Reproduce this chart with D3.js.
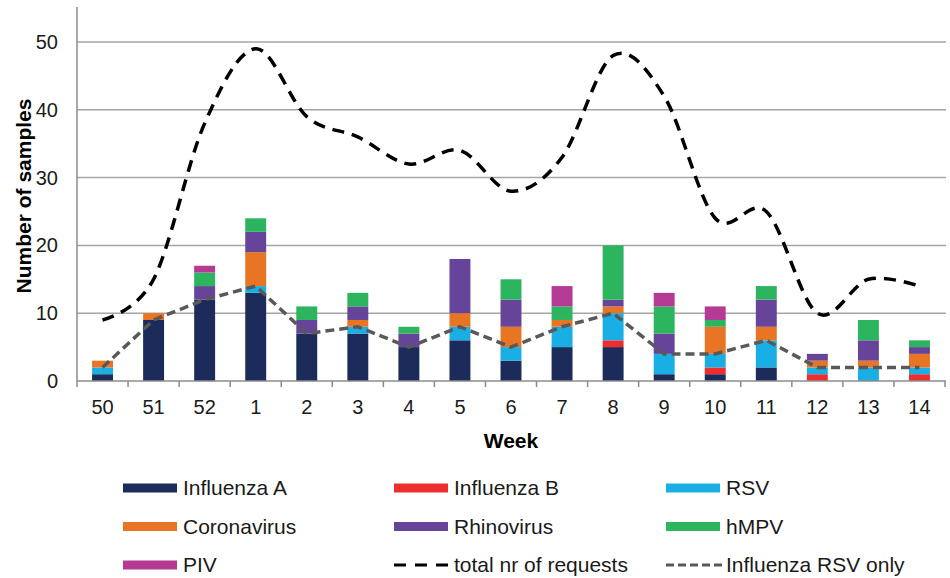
<!DOCTYPE html>
<html><head><meta charset="utf-8">
<script src="https://cdn.jsdelivr.net/npm/d3@7"></script>
<style>body{margin:0;background:#fff}svg{display:block;font-family:"Liberation Sans",Arial,sans-serif}</style>
</head><body><svg id="c" width="950" height="578"></svg>
<script>
const weeks = ["50","51","52","1","2","3","4","5","6","7","8","9","10","11","12","13","14"];
const influenzaA  = [1,9,12,13,7,7,5,6,3,5,5,1,1,2,0,0,0];
const influenzaB  = [0,0,0,0,0,0,0,0,0,0,1,0,1,0,1,0,1];
const rsv         = [1,0,0,1,0,1,0,2,2,3,4,3,2,4,1,2,1];
const coronavirus = [1,1,0,5,0,1,0,2,3,1,1,0,4,2,1,1,2];
const rhinovirus  = [0,0,2,3,2,2,2,8,4,0,1,3,0,4,1,3,1];
const hmpv        = [0,0,2,2,2,2,1,0,3,2,8,4,1,2,0,3,1];
const piv         = [0,0,1,0,0,0,0,0,0,3,0,2,2,0,0,0,0];
const totalRequests = [9,15,38,49,39,36,32,34,28,33,48,42,24,25,10,15,14];
const influenzaRsvOnly = [2,9,12,14,7,8,5,8,5,8,10,4,4,6,2,2,2];
const yTicks = [0,10,20,30,40,50];

const seriesNames = ["Influenza A","Influenza B","RSV","Coronavirus","Rhinovirus","hMPV","PIV"];
const seriesValues = [influenzaA,influenzaB,rsv,coronavirus,rhinovirus,hmpv,piv];
const colors = ["#1c2b59","#ee2d2f","#1aafe4","#e87524","#66449a","#2db45f","#b53a94"];

const svg = d3.select("#c");
const x = d3.scaleBand().domain(weeks).range([77,945]).paddingInner(0.59).paddingOuter(0.295);
const xb = d3.scaleBand().domain(weeks).range([77,945]);
const y = d3.scaleLinear().domain([0,55]).range([381,8.1]);

// gridlines
svg.append("g").selectAll("line").data(yTicks.filter(d=>d>0)).join("line")
  .attr("x1",77).attr("x2",946).attr("y1",d=>y(d)).attr("y2",d=>y(d))
  .attr("stroke","#a6a6a6").attr("stroke-width",1.5);

// stacked bars
const table = weeks.map((w,i)=>{const o={week:w}; seriesNames.forEach((s,j)=>o[s]=seriesValues[j][i]); return o;});
const stack = d3.stack().keys(seriesNames)(table);
svg.append("g").selectAll("g").data(stack).join("g").attr("fill",(d,i)=>colors[i])
  .selectAll("rect").data(d=>d.filter(p=>p[1]>p[0])).join("rect")
  .attr("x",d=>x(d.data.week)).attr("width",x.bandwidth())
  .attr("y",d=>y(d[1])).attr("height",d=>y(d[0])-y(d[1]));

// axes
const ya = svg.append("g").attr("transform","translate(77,0)").call(d3.axisLeft(y).tickValues(yTicks).tickSize(0).tickPadding(19));
ya.select(".domain").attr("stroke","#8c8c8c").attr("stroke-width",1.5).attr("d","M0,7V381");
ya.selectAll("text").attr("font-size",20).attr("fill","#1a1a1a").attr("font-family","Liberation Sans, Arial");

const xa = svg.append("g").attr("transform","translate(0,381)");
xa.append("line").attr("x1",77).attr("x2",946).attr("stroke","#8c8c8c").attr("stroke-width",1.5);
xa.selectAll("line.t").data(weeks.concat(["end"])).join("line").attr("class","t")
  .attr("x1",(d,i)=>77+i*xb.step()).attr("x2",(d,i)=>77+i*xb.step()).attr("y1",0).attr("y2",6)
  .attr("stroke","#8c8c8c").attr("stroke-width",1.5);
xa.selectAll("text").data(weeks).join("text")
  .attr("x",d=>xb(d)+xb.bandwidth()/2).attr("y",26).attr("dy","0.35em").attr("text-anchor","middle")
  .attr("font-size",20).attr("fill","#1a1a1a").text(d=>d);

// lines
const cx = (d,i)=>xb(weeks[i])+xb.bandwidth()/2;
svg.append("path").datum(influenzaRsvOnly)
  .attr("d",d3.line().x(cx).y(d=>y(d)))
  .attr("fill","none").attr("stroke","#595959").attr("stroke-width",3.5).attr("stroke-dasharray","9,5");
svg.append("path").datum(totalRequests)
  .attr("d",d3.line().x(cx).y(d=>y(d)).curve(d3.curveCardinal.tension(0)))
  .attr("fill","none").attr("stroke","#000").attr("stroke-width",3.5).attr("stroke-dasharray","12,8");

// axis titles
svg.append("text").attr("transform","translate(24,196) rotate(-90)").attr("text-anchor","middle")
  .attr("dy","0.35em").attr("font-size",21).attr("font-weight","bold").attr("fill","#000").text("Number of samples");
svg.append("text").attr("x",511).attr("y",441).attr("dy","0.35em").attr("text-anchor","middle")
  .attr("font-size",21).attr("font-weight","bold").attr("fill","#000").text("Week");

// legend
const legendItems = seriesNames.map((n,i)=>({name:n,type:"bar",color:colors[i]}))
  .concat([{name:"total nr of requests",type:"dash",color:"#000",dash:"12,9"},{name:"Influenza RSV only",type:"dash",color:"#595959",dash:"8,4"}]);
const colX = [123,394,666], rowY = [488,526.5,565];
const lg = svg.append("g").selectAll("g").data(legendItems).join("g")
  .attr("transform",(d,i)=>`translate(${colX[i%3]},${rowY[Math.floor(i/3)]})`);
lg.filter(d=>d.type==="bar").append("rect").attr("x",0).attr("y",-4.5).attr("width",54).attr("height",9).attr("fill",d=>d.color);
lg.filter(d=>d.type==="dash").append("line").attr("x1",0).attr("x2",56).attr("y1",0).attr("y2",0)
  .attr("stroke",d=>d.color).attr("stroke-width",3).attr("stroke-dasharray",d=>d.dash);
lg.append("text").attr("x",60).attr("dy","0.35em").attr("font-size",21).attr("fill","#1a1a1a").text(d=>d.name);
</script></body></html>
